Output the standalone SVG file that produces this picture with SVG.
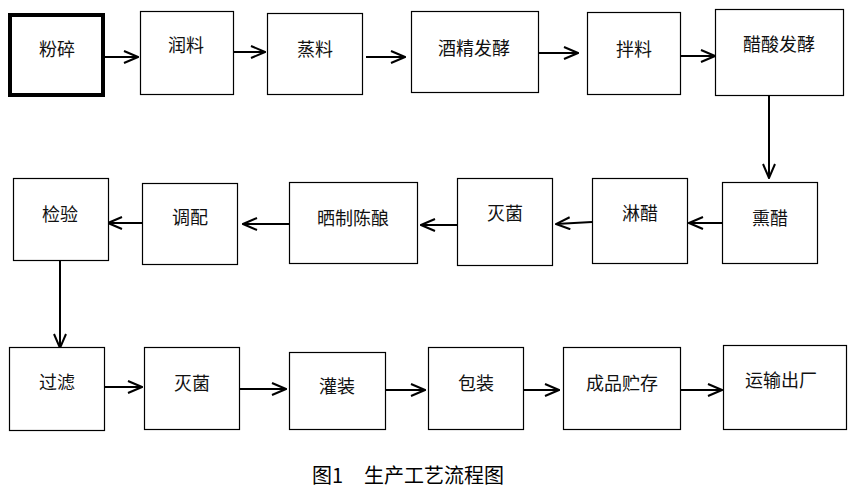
<svg xmlns="http://www.w3.org/2000/svg" width="854" height="491" viewBox="0 0 854 491">
<style>
rect.b{fill:#fff;stroke:#000;stroke-width:1.2}
rect.thick{fill:#fff;stroke:#000;stroke-width:4}
text{font-family:"Noto Sans CJK SC","Noto Sans",sans-serif;font-size:18px;fill:#111;text-anchor:middle;dominant-baseline:central}
text.cap{font-size:20px;text-anchor:start;fill:#000}
#connectors line{stroke:#000;stroke-width:2;fill:none;marker-end:url(#arr)}
</style>
<defs>
<marker id="arr" markerUnits="userSpaceOnUse" viewBox="0 0 16 14" markerWidth="16" markerHeight="14" refX="15" refY="7" orient="auto">
<path d="M1,1 L15,7 L1,13" fill="none" stroke="#000" stroke-width="2"/>
</marker>
</defs>
<rect width="854" height="491" fill="#fff"/>
<g id="connectors">
<line x1="105" y1="57" x2="138" y2="57"/>
<line x1="233" y1="52" x2="265" y2="52"/>
<line x1="366" y1="57" x2="405" y2="57"/>
<line x1="539" y1="53" x2="578" y2="53"/>
<line x1="677" y1="56" x2="715" y2="56"/>
<line x1="769" y1="96" x2="769" y2="178"/>
<line x1="722" y1="223" x2="689" y2="223"/>
<line x1="592" y1="222" x2="556" y2="224"/>
<line x1="457" y1="225" x2="421" y2="225"/>
<line x1="289" y1="224" x2="243" y2="224"/>
<line x1="142" y1="223" x2="108" y2="223"/>
<line x1="60" y1="260" x2="60" y2="348"/>
<line x1="104" y1="387" x2="142" y2="387"/>
<line x1="239" y1="389" x2="286" y2="389"/>
<line x1="386" y1="390" x2="425" y2="390"/>
<line x1="521" y1="390" x2="559" y2="390"/>
<line x1="679" y1="390" x2="722" y2="390"/>
</g>
<g id="n1"><rect class="thick" x="10" y="15" width="93" height="80"/><text x="57" y="48">粉碎</text></g>
<g id="n2"><rect class="b" x="140.5" y="11.5" width="93" height="83"/><text x="186" y="44">润料</text></g>
<g id="n3"><rect class="b" x="267.5" y="13.5" width="95" height="81"/><text x="315" y="48">蒸料</text></g>
<g id="n4"><rect class="b" x="411.5" y="11.5" width="127" height="81"/><text x="474" y="47">酒精发酵</text></g>
<g id="n5"><rect class="b" x="587.5" y="12.5" width="93" height="82"/><text x="634" y="48">拌料</text></g>
<g id="n6"><rect class="b" x="715.5" y="9.5" width="128" height="86"/><text x="779" y="43">醋酸发酵</text></g>
<g id="n7"><rect class="b" x="722.5" y="182.5" width="95" height="81"/><text x="770" y="217">熏醋</text></g>
<g id="n8"><rect class="b" x="592.5" y="178.5" width="95" height="85"/><text x="640" y="212">淋醋</text></g>
<g id="n9"><rect class="b" x="457.5" y="178.5" width="95" height="87"/><text x="505" y="212">灭菌</text></g>
<g id="n10"><rect class="b" x="289.5" y="182.5" width="128" height="81"/><text x="353" y="217">晒制陈酿</text></g>
<g id="n11"><rect class="b" x="142.5" y="183.5" width="95" height="81"/><text x="190" y="216">调配</text></g>
<g id="n12"><rect class="b" x="13.5" y="178.5" width="95" height="82"/><text x="60" y="213">检验</text></g>
<g id="n13"><rect class="b" x="9.5" y="347.5" width="95" height="83"/><text x="57" y="381">过滤</text></g>
<g id="n14"><rect class="b" x="144.5" y="347.5" width="95" height="82"/><text x="192" y="382">灭菌</text></g>
<g id="n15"><rect class="b" x="289.5" y="352.5" width="96" height="77"/><text x="337" y="385">灌装</text></g>
<g id="n16"><rect class="b" x="428.5" y="347.5" width="95" height="82"/><text x="476" y="382">包装</text></g>
<g id="n17"><rect class="b" x="563.5" y="347.5" width="117" height="82"/><text x="622" y="382">成品贮存</text></g>
<g id="n18"><rect class="b" x="723.5" y="345.5" width="123" height="84"/><text x="781" y="379">运输出厂</text></g>
<text class="cap" x="312" y="474">图1<tspan x="364">生产工艺流程图</tspan></text>
</svg>
